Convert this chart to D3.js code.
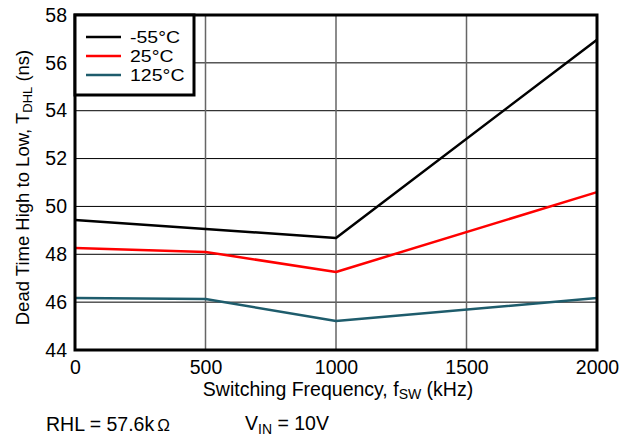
<!DOCTYPE html>
<html>
<head>
<meta charset="utf-8">
<script src="https://cdn.jsdelivr.net/npm/d3@7"></script>
<style>
  html, body { margin: 0; padding: 0; background: #fff; }
  svg text { font-family: "Liberation Sans", Arial, sans-serif; fill: #000; }
</style>
</head>
<body>
<svg id="chart" width="631" height="438"></svg>
<script>
// Switching frequency (kHz)
const freqs = [0, 500, 1000, 2000];
// Dead time high-to-low (ns) per temperature
const seriesNames = ["-55°C", "25°C", "125°C"];
const tMinus55 = [49.43, 49.06, 48.68, 56.97];
const t25 = [48.26, 48.10, 47.26, 50.60];
const t125 = [46.17, 46.13, 45.21, 46.17];
const seriesColors = ["#000000", "#ff0000", "#1e5c6c"];
const xTicks = [0, 500, 1000, 1500, 2000];
const yTicks = [44, 46, 48, 50, 52, 54, 56, 58];

const svg = d3.select("#chart");
const m = { left: 75, top: 15, right: 597, bottom: 350 };
const fs = 19.5;

const x = d3.scaleLinear().domain([0, 2000]).range([m.left, m.right]);
const y = d3.scaleLinear().domain([44, 58]).range([m.bottom, m.top]);

// grid
svg.append("g").selectAll("line").data(yTicks.slice(1, -1)).join("line")
  .attr("x1", m.left).attr("x2", m.right)
  .attr("y1", d => y(d)).attr("y2", d => y(d))
  .attr("stroke", "#000").attr("stroke-width", 1);
svg.append("g").selectAll("line").data(xTicks.slice(1, -1)).join("line")
  .attr("y1", m.top).attr("y2", m.bottom)
  .attr("x1", d => x(d)).attr("x2", d => x(d))
  .attr("stroke", "#666").attr("stroke-width", 1.5);

// series
const all = [tMinus55, t25, t125];
const line = d3.line().x((d, i) => x(freqs[i])).y(d => y(d));
all.forEach((vals, k) => {
  svg.append("path").datum(vals)
    .attr("d", line)
    .attr("fill", "none")
    .attr("stroke", seriesColors[k])
    .attr("stroke-width", 2.5)
    .attr("stroke-linejoin", "round");
});

// frame
svg.append("rect")
  .attr("x", m.left).attr("y", m.top)
  .attr("width", m.right - m.left).attr("height", m.bottom - m.top)
  .attr("fill", "none").attr("stroke", "#000").attr("stroke-width", 3);

// axes
const yAxis = d3.axisLeft(y).tickValues(yTicks).tickFormat(d3.format("d")).tickSize(0).tickPadding(8);
const gy = svg.append("g").attr("transform", `translate(${m.left},0)`).call(yAxis);
gy.select(".domain").remove();
gy.selectAll("text").attr("font-size", fs);

const xAxis = d3.axisBottom(x).tickValues(xTicks).tickFormat(d3.format("d")).tickSize(0).tickPadding(10);
const gx = svg.append("g").attr("transform", `translate(0,${m.bottom})`).call(xAxis);
gx.select(".domain").remove();
gx.selectAll("text").attr("font-size", fs);

// axis titles
const xt = svg.append("text").attr("x", 338).attr("y", 396)
  .attr("text-anchor", "middle").attr("font-size", fs);
xt.append("tspan").text("Switching Frequency, f");
xt.append("tspan").attr("font-size", 14).attr("dy", 3).text("SW");
xt.append("tspan").attr("dy", -3).text(" (kHz)");

const yt = svg.append("text")
  .attr("transform", `translate(29,${(m.top + m.bottom) / 2 + 5}) rotate(-90)`)
  .attr("text-anchor", "middle").attr("font-size", 18.5);
yt.append("tspan").text("Dead Time High to Low, T");
yt.append("tspan").attr("font-size", 13).attr("dy", 3).text("DHL");
yt.append("tspan").attr("dy", -3).text(" (ns)");

// legend: compact rows, labels widened to full-size text widths
const lg = svg.append("g");
lg.append("rect").attr("x", m.left).attr("y", m.top).attr("width", 119).attr("height", 80)
  .attr("fill", "#fff").attr("stroke", "#000").attr("stroke-width", 3);
const labelWidths = [50, 43.5, 54.5];
seriesNames.forEach((name, k) => {
  const ly = 37 + k * 19;
  lg.append("line").attr("x1", 86).attr("x2", 121).attr("y1", ly).attr("y2", ly)
    .attr("stroke", seriesColors[k]).attr("stroke-width", 2.5);
  lg.append("text").attr("x", 130).attr("y", ly + 6).attr("font-size", 16.5)
    .attr("textLength", labelWidths[k]).attr("lengthAdjust", "spacingAndGlyphs")
    .text(name);
});

// conditions
const rhl = svg.append("text").attr("x", 46).attr("y", 431).attr("font-size", fs);
rhl.append("tspan").text("RHL = 57.6k");
rhl.append("tspan").attr("font-size", 17).attr("dx", 3).text("Ω");
const vin = svg.append("text").attr("x", 245).attr("y", 430).attr("font-size", fs);
vin.append("tspan").text("V");
vin.append("tspan").attr("font-size", 14).attr("dy", 4).text("IN");
vin.append("tspan").attr("dy", -4).text(" = 10V");
</script>
</body>
</html>
